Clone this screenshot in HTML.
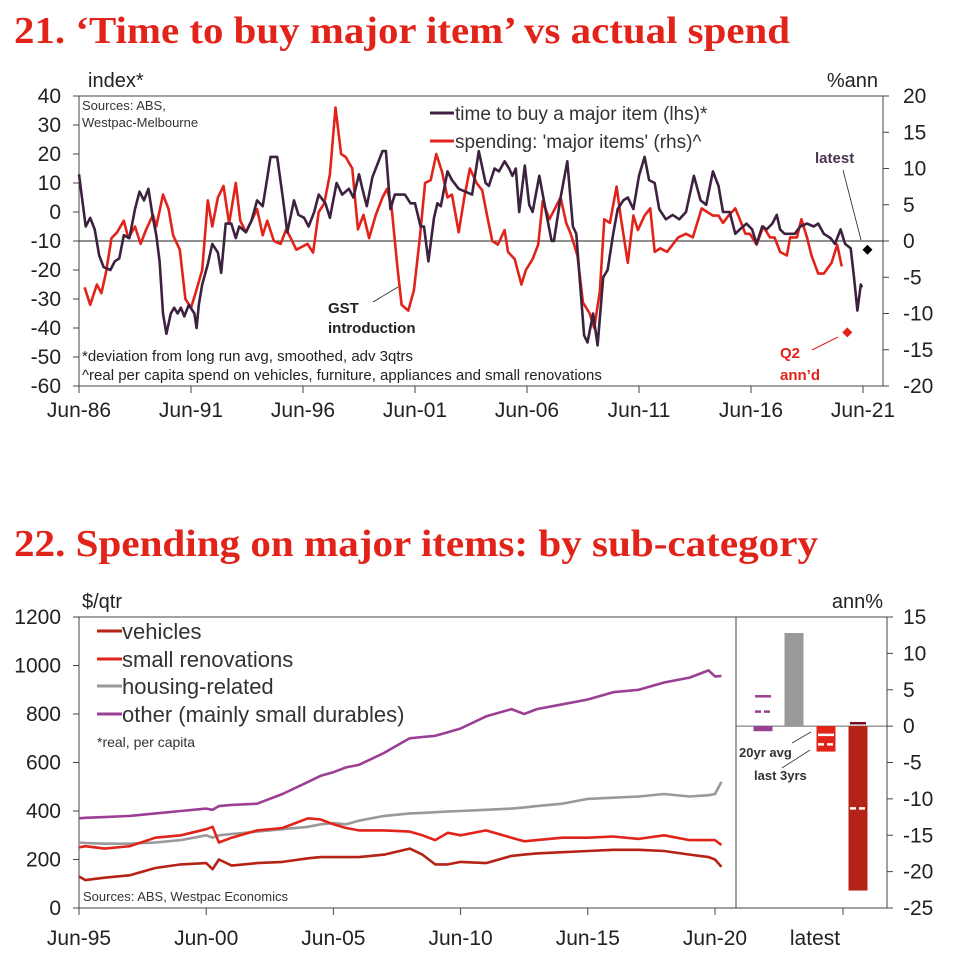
<!DOCTYPE html>
<html><head><meta charset="utf-8"><style>
html,body{margin:0;padding:0;background:#fff;}
svg{display:block;font-family:"Liberation Sans",sans-serif;}
</style></head><body>
<svg id="c" width="962" height="961" viewBox="0 0 962 961" xmlns="http://www.w3.org/2000/svg"></svg>
<script>
// ---------- Chart 21 data ----------
const c1TimeYears=[1986.5,1986.8,1987.0,1987.2,1987.4,1987.6,1987.9,1988.1,1988.3,1988.5,1988.75,1989.0,1989.2,1989.4,1989.6,1989.8,1989.95,1990.1,1990.25,1990.4,1990.6,1990.75,1990.9,1991.05,1991.2,1991.4,1991.65,1991.75,1991.85,1992.0,1992.25,1992.45,1992.7,1992.85,1993.05,1993.3,1993.5,1993.65,1993.95,1994.2,1994.45,1994.7,1994.85,1995.05,1995.2,1995.35,1995.6,1995.8,1996.1,1996.3,1996.55,1996.75,1997.0,1997.2,1997.5,1997.7,1998.0,1998.25,1998.55,1998.75,1999.0,1999.15,1999.35,1999.6,1999.8,2000.05,2000.2,2000.4,2000.6,2000.85,2001.05,2001.3,2001.5,2001.75,2001.9,2002.1,2002.35,2002.5,2002.65,2002.95,2003.15,2003.45,2003.75,2004.05,2004.35,2004.65,2004.8,2005.05,2005.25,2005.5,2005.7,2005.85,2006.0,2006.15,2006.4,2006.6,2006.75,2007.05,2007.35,2007.6,2007.7,2008.0,2008.3,2008.55,2008.7,2008.85,2009.05,2009.2,2009.45,2009.65,2009.9,2010.1,2010.35,2010.55,2010.8,2011.0,2011.25,2011.5,2011.75,2011.95,2012.2,2012.4,2012.7,2013.0,2013.3,2013.6,2013.95,2014.25,2014.5,2014.8,2015.05,2015.25,2015.55,2015.8,2016.0,2016.3,2016.55,2016.75,2017.0,2017.2,2017.45,2017.65,2017.8,2018.0,2018.25,2018.45,2018.7,2019.0,2019.3,2019.5,2019.75,2020.05,2020.25,2020.5,2020.7,2020.95,2021.1,2021.25,2021.4,2021.45];
const c1TimeValues=[13,-5,-2,-6,-15,-19,-20,-17,-16,-8,-9,1,7,4,8,-2,-8,-17,-35,-42,-35,-33,-35,-33,-36,-32,-35,-40,-32,-25,-18,-11,-14,-21,-4,-4,-9,-5,-7,-3,4,2,9,19,19,19,5,-7,4,-1,-2,-5,0,6,3,-2,10,6,8,5,13,8,2,12,16,21,21,1,6,6,6,3,3,-5,-5,-17,-2,3,2,14,11,8,7,6,21,10,9,15,14,17.5,15,12.5,15,0,16,2.5,0,12.5,0,-10,-10,5,17.5,-5,-7.5,-22.5,-42.5,-45,-35,-46,-22.5,-20,-7.5,1,4,5,1,12.5,19,11,10,1,-2.5,-1,-2.5,0,12.5,4,2.5,14,9,0,0,-7.5,-6,-4,-6,-11,-5,-6,-4,-1,-6,-7.5,-7.5,-7.5,-5,-4,-5,-4,-7.5,-9,-11,-6,-11,-12.5,-22.5,-34,-25,-26];
const c1SpendYears=[1986.75,1987.0,1987.3,1987.5,1987.7,1987.95,1988.2,1988.5,1988.7,1989.0,1989.25,1989.5,1989.8,1989.95,1990.25,1990.5,1990.7,1991.0,1991.25,1991.5,1991.7,1992.0,1992.25,1992.45,1992.7,1992.95,1993.2,1993.5,1993.7,1993.95,1994.2,1994.45,1994.7,1994.9,1995.2,1995.5,1995.75,1995.95,1996.2,1996.45,1996.7,1996.95,1997.2,1997.45,1997.7,1997.95,1998.2,1998.4,1998.7,1998.95,1999.2,1999.45,1999.75,2000.05,2000.25,2000.45,2000.7,2000.9,2001.2,2001.45,2001.7,2001.95,2002.2,2002.45,2002.7,2002.95,2003.15,2003.45,2003.7,2003.95,2004.25,2004.5,2004.75,2004.95,2005.2,2005.5,2005.65,2005.8,2005.95,2006.25,2006.45,2006.75,2007.0,2007.2,2007.5,2008.0,2008.25,2008.45,2008.75,2009.0,2009.3,2009.5,2009.75,2009.95,2010.2,2010.5,2010.7,2011.0,2011.25,2011.45,2011.75,2012.0,2012.2,2012.45,2012.75,2013.25,2013.6,2013.9,2014.3,2014.8,2015.05,2015.25,2015.5,2015.8,2016.0,2016.25,2016.45,2016.75,2017.05,2017.35,2017.55,2017.8,2018.1,2018.25,2018.55,2018.75,2019.0,2019.2,2019.5,2019.75,2020.1,2020.35,2020.55];
const c1SpendValues=[-6.4,-8.8,-6,-7.2,-4.4,0.4,1.2,2.8,0.4,2,-0.4,1.6,3.6,2,6.4,4.4,0.8,-1.2,-8,-9.2,-7.2,-4,5.6,2,6,7.6,2.4,8,2.8,1.2,2.8,4.4,0.8,2.8,0,-0.4,1.6,0.4,-1.2,-0.8,-0.4,-1.6,4,5.2,9.2,18.4,12,11.6,10,1.6,3.6,0.4,3.6,6,7.2,4.8,-3.2,-8.8,-9.6,-6.8,0,8,8.4,12,9.6,6,6.4,1.2,6,10,8,7,3,0,-0.5,1.5,-1.5,-2,-2.5,-6,-4,-2.5,-0.5,5.5,3,6,2.5,1,-2,-8.5,-10,-12,-7,3,2.5,7.5,3,-3,3.5,1.5,3.5,4.5,-1.5,-1,-1.5,0.5,1,0.5,4.5,3.5,3.5,2.5,3.5,4.5,3,1,1,-0.5,2,0.5,0.5,-1.5,-2,0.5,0.5,3,0.5,-2,-4.5,-4.5,-3,-0.5,-3.5];
const c1LatestYear=[2021.7], c1LatestValue=[-1.2];
const c1Q2Year=[2020.8], c1Q2Value=[-12.6];
const c1LeftTicks=[40,30,20,10,0,-10,-20,-30,-40,-50,-60];
const c1RightTicks=[20,15,10,5,0,-5,-10,-15,-20];
const c1XLabels=["Jun-86","Jun-91","Jun-96","Jun-01","Jun-06","Jun-11","Jun-16","Jun-21"];
const c1XYears=[1986.5,1991.5,1996.5,2001.5,2006.5,2011.5,2016.5,2021.5];

// ---------- Chart 22 data ----------
const c2Years=[1995.5,1995.75,1996.5,1997.5,1998.5,1999.5,2000.5,2000.75,2001.0,2001.5,2002.5,2003.5,2004.5,2005.0,2005.5,2006.0,2006.5,2007.5,2008.5,2009.0,2009.5,2010.0,2010.5,2011.5,2012.5,2013.0,2013.5,2014.5,2015.5,2016.5,2017.5,2018.5,2019.5,2020.25,2020.5,2020.75];
const c2Vehicles=[130,115,125,135,165,180,185,160,200,175,185,190,205,210,210,210,210,220,245,220,180,180,190,185,215,220,225,230,235,240,240,235,220,210,200,170];
const c2Renov=[250,255,245,255,290,300,325,335,270,290,320,330,370,365,345,330,320,320,315,300,280,310,300,320,290,275,280,290,290,295,285,300,280,280,280,260];
const c2Housing=[270,268,265,265,270,280,300,290,300,305,315,325,335,345,350,345,360,380,390,392,395,398,400,405,410,415,420,430,450,455,460,470,460,465,470,520];
const c2Other=[370,372,375,380,390,400,410,405,420,425,430,470,520,545,560,580,590,640,700,705,710,725,740,790,820,800,820,840,860,890,900,930,950,980,955,957];
const c2LeftTicks=[1200,1000,800,600,400,200,0];
const c2RightTicks=[15,10,5,0,-5,-10,-15,-20,-25];
const c2XLabels=["Jun-95","Jun-00","Jun-05","Jun-10","Jun-15","Jun-20"];
const c2XYears=[1995.5,2000.5,2005.5,2010.5,2015.5,2020.5];
const barCats=["other","housing","renovations","vehicles"];
const barLatest=[-0.7,12.8,-3.5,-22.6];
const bar20yr=[4.1,null,-1.2,0.4];
const barLast3=[2.0,null,-2.5,-11.3];

const NS="http://www.w3.org/2000/svg";
const svg=document.getElementById('c');
function el(tag,attrs,parent,text){const e=document.createElementNS(NS,tag);for(const k in attrs)e.setAttribute(k,attrs[k]);if(text!==undefined)e.textContent=text;(parent||svg).appendChild(e);return e;}
const RED="#e2231a",PURP="#3d2240";

let t=el('text',{x:14,y:43,'font-family':'"Liberation Serif",serif','font-weight':'bold','font-size':38,fill:RED,textLength:776,lengthAdjust:'spacingAndGlyphs'},svg,"21. ‘Time to buy major item’ vs actual spend");

t=el('text',{x:14,y:556,'font-family':'"Liberation Serif",serif','font-weight':'bold','font-size':38,fill:RED,textLength:804,lengthAdjust:'spacingAndGlyphs'},svg,"22. Spending on major items: by sub-category");


// ===== Chart 21 =====
const A={l:79,r:883,t:96,b:386};
const x1=y=>A.l+(y-1986.5)*(863-79)/35;
const yL=v=>A.t+(40-v)*(A.b-A.t)/100;
const yR=v=>A.t+(20-v)*(A.b-A.t)/40;
const g1=el('g',{});
let r=el('rect',{x:A.l,y:A.t,width:A.r-A.l,height:A.b-A.t,fill:'none',stroke:'#444','stroke-width':1},g1);

let zl=el('line',{x1:A.l,x2:A.r,y1:yR(0),y2:yR(0),stroke:'#222','stroke-width':1},g1);

c1LeftTicks.forEach(v=>{el('line',{x1:A.l-6,x2:A.l,y1:yL(v),y2:yL(v),stroke:'#444'},g1);
 const tx=el('text',{x:61,y:yL(v)+7,'text-anchor':'end','font-size':21,fill:'#222'},g1,String(v));
 });
c1RightTicks.forEach(v=>{el('line',{x1:A.r,x2:A.r+6,y1:yR(v),y2:yR(v),stroke:'#444'},g1);
 const tx=el('text',{x:903,y:yR(v)+7,'font-size':21,fill:'#222'},g1,String(v));
 });
c1XYears.forEach((yy,i)=>{el('line',{x1:x1(yy),x2:x1(yy),y1:A.b,y2:A.b+7,stroke:'#444'},g1);
 const tx=el('text',{x:x1(yy),y:417,'text-anchor':'middle','font-size':21,fill:'#222'},g1,c1XLabels[i]);
 });
t=el('text',{x:88,y:87,'font-size':20,fill:'#222'},g1,"index*");
t=el('text',{x:878,y:87,'text-anchor':'end','font-size':20,fill:'#222'},g1,"%ann");
t=el('text',{x:82,y:110,'font-size':13,fill:'#333'},g1,"Sources: ABS,");
el('text',{x:82,y:127,'font-size':13,fill:'#333'},g1,"Westpac-Melbourne");
t=el('text',{x:82,y:361,'font-size':15,fill:'#222'},g1,"*deviation from long run avg, smoothed, adv 3qtrs");
t=el('text',{x:82,y:380,'font-size':15,fill:'#222'},g1,"^real per capita spend on vehicles, furniture, appliances and small renovations");
let lg=el('g',{},g1);
el('line',{x1:430,x2:454,y1:113,y2:113,stroke:PURP,'stroke-width':3},lg);
el('text',{x:455,y:120,'font-size':19,fill:'#333'},lg,"time to buy a major item (lhs)*");
el('line',{x1:430,x2:454,y1:141,y2:141,stroke:RED,'stroke-width':3},lg);
el('text',{x:455,y:148,'font-size':19,fill:'#333'},lg,"spending: 'major items' (rhs)^");
let p=el('path',{d:c1SpendYears.map((yy,i)=>(i?'L':'M')+x1(yy).toFixed(1)+' '+yR(c1SpendValues[i]).toFixed(1)).join(''),fill:'none',stroke:RED,'stroke-width':2.6,'stroke-linejoin':'round'},g1);

p=el('path',{d:c1TimeYears.map((yy,i)=>(i?'L':'M')+x1(yy).toFixed(1)+' '+yL(c1TimeValues[i]).toFixed(1)).join(''),fill:'none',stroke:PURP,'stroke-width':2.6,'stroke-linejoin':'round'},g1);

function diamond(cx,cy,s,f,name){const d=el('path',{d:`M${cx} ${cy-s}L${cx+s} ${cy}L${cx} ${cy+s}L${cx-s} ${cy}Z`,fill:f},g1);}
diamond(x1(c1LatestYear[0]),yR(c1LatestValue[0]),5,'#000','latest-marker');
diamond(x1(c1Q2Year[0]),yR(c1Q2Value[0]),5,RED,'q2-annualised-marker');
el('line',{x1:843,y1:170,x2:861,y2:240,stroke:'#222','stroke-width':0.8},g1);
t=el('text',{x:815,y:163,'font-size':15,'font-weight':'bold',fill:'#4a3550'},g1,"latest");
el('line',{x1:812,y1:350,x2:838,y2:337,stroke:RED,'stroke-width':1},g1);
t=el('text',{x:780,y:358,'font-size':15,'font-weight':'bold',fill:RED},g1,"Q2");
el('text',{x:780,y:380,'font-size':15,'font-weight':'bold',fill:RED},g1,"ann’d");
el('line',{x1:373,y1:302,x2:398,y2:287,stroke:'#222','stroke-width':0.8},g1);
t=el('text',{x:328,y:313,'font-size':15,'font-weight':'bold',fill:'#222'},g1,"GST");
el('text',{x:328,y:333,'font-size':15,'font-weight':'bold',fill:'#222'},g1,"introduction");

// ===== Chart 22 =====
const B={l:79,r:887,t:617,b:908,div:736};
const x2=y=>B.l+(y-1995.5)*(715-79)/25;
const y2L=v=>B.b-v*(B.b-B.t)/1200;
const y2R=v=>B.t+(15-v)*(B.b-B.t)/40;
const g2=el('g',{});
el('line',{x1:B.l,x2:B.r,y1:B.t,y2:B.t,stroke:'#444'},g2);
el('line',{x1:B.l,x2:B.r,y1:B.b,y2:B.b,stroke:'#444'},g2);
el('line',{x1:B.l,x2:B.l,y1:B.t,y2:B.b,stroke:'#444'},g2);
el('line',{x1:B.r,x2:B.r,y1:B.t,y2:B.b,stroke:'#444'},g2);
let dv=el('line',{x1:B.div,x2:B.div,y1:B.t,y2:B.b,stroke:'#444'},g2);
el('line',{x1:B.div,x2:B.r,y1:y2R(0),y2:y2R(0),stroke:'#666'},g2);
c2LeftTicks.forEach(v=>{el('line',{x1:B.l-6,x2:B.l,y1:y2L(v),y2:y2L(v),stroke:'#444'},g2);
 const tx=el('text',{x:61,y:y2L(v)+7,'text-anchor':'end','font-size':21,fill:'#222'},g2,String(v));
 });
c2RightTicks.forEach(v=>{el('line',{x1:B.r,x2:B.r+6,y1:y2R(v),y2:y2R(v),stroke:'#444'},g2);
 const tx=el('text',{x:903,y:y2R(v)+7,'font-size':21,fill:'#222'},g2,String(v));
 });
c2XYears.forEach((yy,i)=>{el('line',{x1:x2(yy),x2:x2(yy),y1:B.b,y2:B.b+7,stroke:'#444'},g2);
 const tx=el('text',{x:x2(yy),y:945,'text-anchor':'middle','font-size':21,fill:'#222'},g2,c2XLabels[i]);
 });
el('line',{x1:843,x2:843,y1:B.b,y2:B.b+7,stroke:'#444'},g2);
t=el('text',{x:815,y:945,'text-anchor':'middle','font-size':21,fill:'#222'},g2,"latest");
t=el('text',{x:82,y:608,'font-size':20,fill:'#222'},g2,"$/qtr");
t=el('text',{x:883,y:608,'text-anchor':'end','font-size':20,fill:'#222'},g2,"ann%");
const cols={veh:"#b52216",ren:"#e2231a",hou:"#999999",oth:"#9b3f94"};
const lg2=el('g',{},g2);
[["vehicles",cols.veh,639],["small renovations",cols.ren,667],["housing-related",cols.hou,694],["other (mainly small durables)",cols.oth,722]].forEach(a=>{
 el('line',{x1:97,x2:122,y1:a[2]-8,y2:a[2]-8,stroke:a[1],'stroke-width':3},lg2);
 el('text',{x:122,y:a[2],'font-size':22,fill:'#333'},lg2,a[0]);});
t=el('text',{x:97,y:747,'font-size':14,fill:'#333'},g2,"*real, per capita");
t=el('text',{x:83,y:901,'font-size':13,fill:'#333'},g2,"Sources: ABS, Westpac Economics");
function line2(vals,col,name){const pp=el('path',{d:c2Years.map((yy,i)=>(i?'L':'M')+x2(yy).toFixed(1)+' '+y2L(vals[i]).toFixed(1)).join(''),fill:'none',stroke:col,'stroke-width':2.6,'stroke-linejoin':'round'},g2);}
line2(c2Housing,cols.hou,'housing-related-line');
line2(c2Vehicles,cols.veh,'vehicles-line');
line2(c2Renov,cols.ren,'small-renovations-line');
line2(c2Other,cols.oth,'other-durables-line');
const barX=[763,794,826,858],barCol=[cols.oth,cols.hou,cols.ren,cols.veh];
const markCol=[cols.oth,null,'#fff','#fff'];
barCats.forEach((c,i)=>{
 const v=barLatest[i],y0=y2R(0),yv=y2R(v);
 const b=el('rect',{x:barX[i]-9.5,y:Math.min(y0,yv),width:19,height:Math.abs(yv-y0),fill:barCol[i]},g2);
 
 if(bar20yr[i]!==null){const mc=(i===3?'#7a0b2a':markCol[i]);
  const m=el('line',{x1:barX[i]-8,x2:barX[i]+8,y1:y2R(bar20yr[i]),y2:y2R(bar20yr[i]),stroke:mc,'stroke-width':2.5},g2);
  }
 if(barLast3[i]!==null){
  const m=el('line',{x1:barX[i]-8,x2:barX[i]+8,y1:y2R(barLast3[i]),y2:y2R(barLast3[i]),stroke:markCol[i],'stroke-width':2.5,'stroke-dasharray':'6 3'},g2);
  }
});
el('line',{x1:792,y1:743,x2:811,y2:732,stroke:'#333','stroke-width':0.8},g2);
el('line',{x1:782,y1:768,x2:810,y2:750,stroke:'#333','stroke-width':0.8},g2);
t=el('text',{x:739,y:757,'font-size':13,'font-weight':'bold',fill:'#333'},g2,"20yr avg");
t=el('text',{x:754,y:780,'font-size':13,'font-weight':'bold',fill:'#333'},g2,"last 3yrs");
</script>
</body></html>
